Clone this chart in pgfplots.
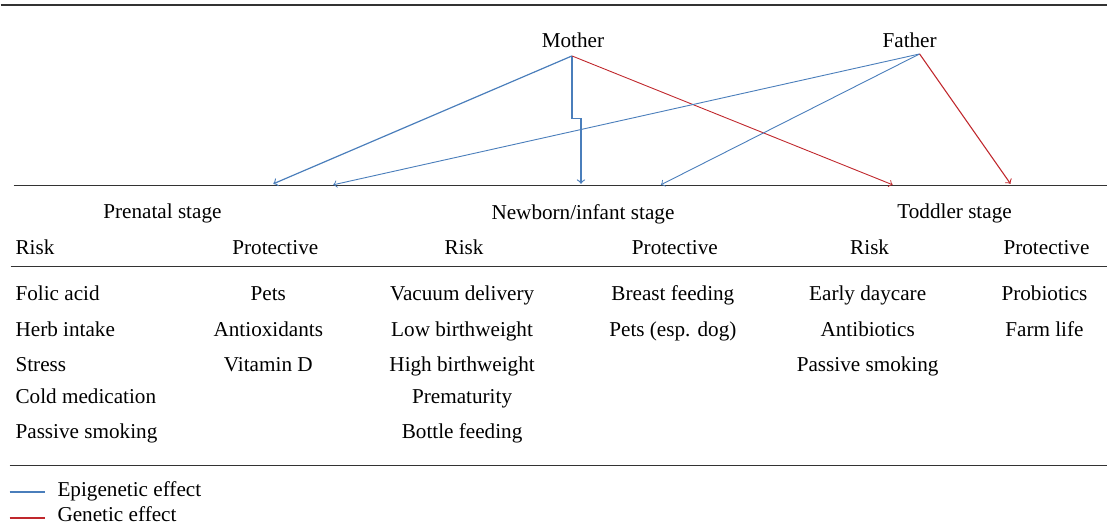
\documentclass[border=0pt]{standalone}
\usepackage{pgfplots}
\pgfplotsset{compat=1.18}
\usepackage{fontspec}
\setmainfont{Liberation Serif}
\definecolor{epi}{RGB}{74,126,187}
\definecolor{gen}{RGB}{192,40,45}
\tikzset{
  t/.style={font=\fontsize{10.6}{13}\selectfont, inner sep=0pt, outer sep=0pt, anchor=base},
  tl/.style={font=\fontsize{10.6}{13}\selectfont, inner sep=0pt, outer sep=0pt, anchor=base west},
}
\begin{document}
\begin{tikzpicture}
\begin{axis}[
  scale only axis, width=554pt, height=265.5pt,
  xmin=0, xmax=1108, ymin=0, ymax=531, y dir=reverse,
  axis line style={draw=none}, ticks=none, clip=false,
]
% rules
\addplot[black!80, line width=0.6pt] coordinates {(0,5) (1108,5)};
\addplot[black!80, line width=0.6pt] coordinates {(13,186) (1108,186)};
\addplot[black!80, line width=0.6pt] coordinates {(10,267) (1108,267)};
\addplot[black!80, line width=0.6pt] coordinates {(9,466) (1108,466)};
% mother
\addplot[epi, line width=0.6pt, -to] coordinates {(572,56) (273,184)};
\addplot[epi, line width=0.6pt, -to] coordinates {(572,56) (572,119) (581,119) (581,184)};
\addplot[gen, line width=0.45pt, -to] coordinates {(572,56) (893,185)};
% father
\addplot[epi, line width=0.45pt, -to] coordinates {(920,54) (333,185)};
\addplot[epi, line width=0.45pt, -to] coordinates {(920,54) (661,185)};
\addplot[gen, line width=0.55pt, -to] coordinates {(920,54) (1011,184)};
% legend
\addplot[draw=epi, line width=0.75pt] coordinates {(9,492.5) (44,492.5)};
\addplot[draw=gen, line width=0.75pt] coordinates {(9,518.5) (44,518.5)};
% labels
\node[t] at (axis cs:573,48) {Mother};
\node[t] at (axis cs:910,48) {Father};
\node[t] at (axis cs:162,219) {Prenatal stage};
\node[t] at (axis cs:583,220) {Newborn/infant stage};
\node[t] at (axis cs:955,219) {Toddler stage};
\node[tl] at (axis cs:15,255) {Risk};
\node[t] at (axis cs:275,255) {Protective};
\node[t] at (axis cs:464,255) {Risk};
\node[t] at (axis cs:675,255) {Protective};
\node[t] at (axis cs:870,255) {Risk};
\node[t] at (axis cs:1047,255) {Protective};
% column 1
\node[tl] at (axis cs:15,301) {Folic acid};
\node[tl] at (axis cs:15,337) {Herb intake};
\node[tl] at (axis cs:15,372) {Stress};
\node[tl] at (axis cs:15,404) {Cold medication};
\node[tl] at (axis cs:15,439) {Passive smoking};
% column 2
\node[t] at (axis cs:268,301) {Pets};
\node[t] at (axis cs:268,337) {Antioxidants};
\node[t] at (axis cs:268,372) {Vitamin D};
% column 3
\node[t] at (axis cs:462,301) {Vacuum delivery};
\node[t] at (axis cs:462,337) {Low birthweight};
\node[t] at (axis cs:462,372) {High birthweight};
\node[t] at (axis cs:462,404) {Prematurity};
\node[t] at (axis cs:462,439) {Bottle feeding};
% column 4
\node[t] at (axis cs:673,301) {Breast feeding};
\node[t] at (axis cs:673,337) {Pets (esp. dog)};
% column 5
\node[t] at (axis cs:868,301) {Early daycare};
\node[t] at (axis cs:868,337) {Antibiotics};
\node[t] at (axis cs:868,372) {Passive smoking};
% column 6
\node[t] at (axis cs:1045,301) {Probiotics};
\node[t] at (axis cs:1045,337) {Farm life};
% legend texts
\node[tl] at (axis cs:57,497) {Epigenetic effect};
\node[tl] at (axis cs:57,522) {Genetic effect};
\end{axis}
\end{tikzpicture}
\end{document}
